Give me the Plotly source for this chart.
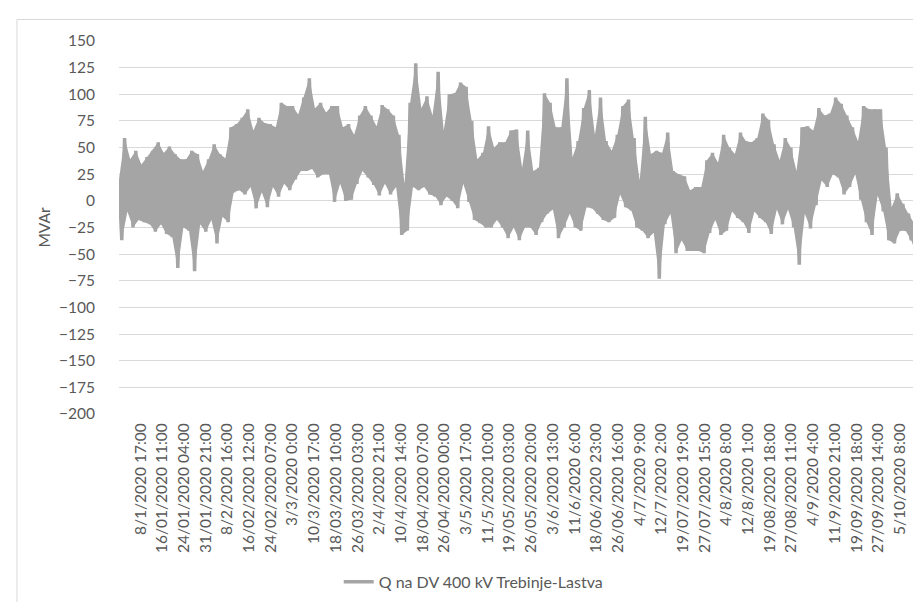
import plotly.graph_objects as go

# Series: Q na DV 400 kV Trebinje-Lastva (MVAr), read as alternating daily high / low values
daily_high = [20, 59, 39, 47, 34, 41, 47, 55, 45, 51, 44, 39, 39, 47, 44, 28, 39, 53, 44, 40,
              69, 72, 78, 86, 66, 78, 73, 72, 69, 92, 89, 89, 81, 97, 115,
              87, 92, 83, 89, 89, 69, 72, 62, 80, 89, 80, 70, 90, 86, 80, 62, 16, 92, 129, 87,
              98, 80, 121, 66, 100, 101, 111, 107, 75, 39, 45, 70, 50, 55, 55, 66,
              67, 31, 66, 28, 31, 101, 92, 69, 69, 115, 41, 56, 87, 104, 62, 97, 56, 47, 62,
              89, 95, 59, 19, 79, 44, 47, 45, 64, 28, 25, 23, 10, 13, 13, 38, 45,
              36, 62, 50, 44, 64, 56, 55, 59, 82, 76, 53, 38, 59, 50, 28, 69, 70, 66, 87,
              80, 82, 97, 91, 80, 69, 56, 89, 86, 86, 86, 50, -6, 7, -3, -12, -21]
daily_low = [-37, -10, -25, -18, -20, -22, -29, -22, -31, -34, -63, -25, -28, -66, -22, -29, -18, -40, -15, -20,
             8, 10, 6, 13, -7, 8, -6, 13, 4, 16, 10, 20, 28, 28, 30,
             22, 25, 25, -1, 16, 0, 1, 16, 28, 22, 15, 5, 16, 6, 13, -32, -28, 13, 10, 13,
             6, 4, -4, 4, 0, -7, 16, -1, -18, -21, -25, -25, -18, -25, -35, -25,
             -37, -25, -25, -32, -20, -12, -8, -35, -25, -12, -25, -28, -6, -7, -12, -18, -20, -16, 6,
             -6, -9, -25, -28, -35, -30, -73, -22, -12, -49, -37, -47, -47, -47, -49, -30, -18,
             -32, -28, -10, -16, -20, -30, -10, -16, -20, -31, -8, -22, -8, -25, -60, -12, -26, -4, 19,
             13, 25, 22, 6, 13, 25, 1, -20, -32, 5, -10, -37, -40, -28, -28, -37, -52]

tick_labels = ["8/1/2020 17:00", "16/01/2020 11:00", "24/01/2020 04:00", "31/01/2020 21:00",
               "8/2/2020 16:00", "16/02/2020 12:00", "24/02/2020 07:00", "3/3/2020 0:00",
               "10/3/2020 17:00", "18/03/2020 10:00", "26/03/2020 03:00", "2/4/2020 21:00",
               "10/4/2020 14:00", "18/04/2020 07:00", "26/04/2020 00:00", "3/5/2020 17:00",
               "11/5/2020 10:00", "19/05/2020 03:00", "26/05/2020 20:00", "3/6/2020 13:00",
               "11/6/2020 6:00", "18/06/2020 23:00", "26/06/2020 16:00", "4/7/2020 9:00",
               "12/7/2020 2:00", "19/07/2020 19:00", "27/07/2020 15:00", "4/8/2020 8:00",
               "12/8/2020 1:00", "19/08/2020 18:00", "27/08/2020 11:00", "4/9/2020 4:00",
               "11/9/2020 21:00", "19/09/2020 18:00", "27/09/2020 14:00", "5/10/2020 8:00"]

series_name = "Q na DV 400 kV Trebinje-Lastva"
y_title = "MVAr"

# hourly position of each sample (one sample per day, alternating high/low)
x_high = [48 * k for k in range(len(daily_high))]
x_low = [48 * k + 24 for k in range(len(daily_low))]
x_vals, y_vals = [], []
for xh, h, xl, l in zip(x_high, daily_high, x_low, daily_low):
    x_vals += [xh, xl]
    y_vals += [h, l]

first_tick_hour = 185
tick_step_hours = 186
tick_vals = [first_tick_hour + tick_step_hours * k for k in range(len(tick_labels))]

FONT = "Lato"
TXT = "#595959"
GRID = "#d9d9d9"
LINE = "#a5a5a5"

fig = go.Figure()
# dense band between the daily highs and lows (the hourly line fills this band)
fig.add_trace(go.Scatter(
    x=x_high + x_low[::-1], y=daily_high + daily_low[::-1],
    mode="lines", fill="toself", fillcolor=LINE, line=dict(width=0, color=LINE),
    showlegend=False, hoverinfo="skip",
))
fig.add_trace(go.Scatter(
    x=x_vals, y=y_vals, mode="lines", name=series_name,
    line=dict(color=LINE, width=3.5),
))

fig.update_layout(
    width=921, height=602,
    margin=dict(l=111, r=11, t=33, b=193),
    paper_bgcolor="white", plot_bgcolor="white",
    font=dict(family=FONT, size=15.5, color=TXT),
    showlegend=True,
    legend=dict(orientation="h", x=0.275, xanchor="left", y=-0.45, yanchor="middle",
                font=dict(family=FONT, size=16, color=TXT), bgcolor="rgba(0,0,0,0)"),
    xaxis=dict(
        range=[0, 6850], tickmode="array", tickvals=tick_vals, ticktext=tick_labels,
        tickangle=-90, showgrid=False, zeroline=False, showline=False,
        ticks="outside", ticklen=2, tickcolor="rgba(0,0,0,0)",
        tickfont=dict(family=FONT, size=15.5, color=TXT),
    ),
    yaxis=dict(
        range=[-200, 150], dtick=25, tick0=0, showgrid=True, gridcolor=GRID, gridwidth=1,
        zeroline=False, showline=False,
        ticks="outside", ticklen=20, tickcolor="rgba(0,0,0,0)",
        tickfont=dict(family=FONT, size=15.5, color=TXT),
        title=dict(text=y_title, standoff=4, font=dict(family=FONT, size=15.5, color=TXT)),
    ),
    shapes=[dict(type="rect", xref="paper", yref="paper",
                 x0=-0.1277, x1=1.02, y0=-0.53, y1=1.0576,
                 line=dict(color=GRID, width=1), fillcolor="rgba(0,0,0,0)", layer="below")],
)

fig.write_html("out.html")
